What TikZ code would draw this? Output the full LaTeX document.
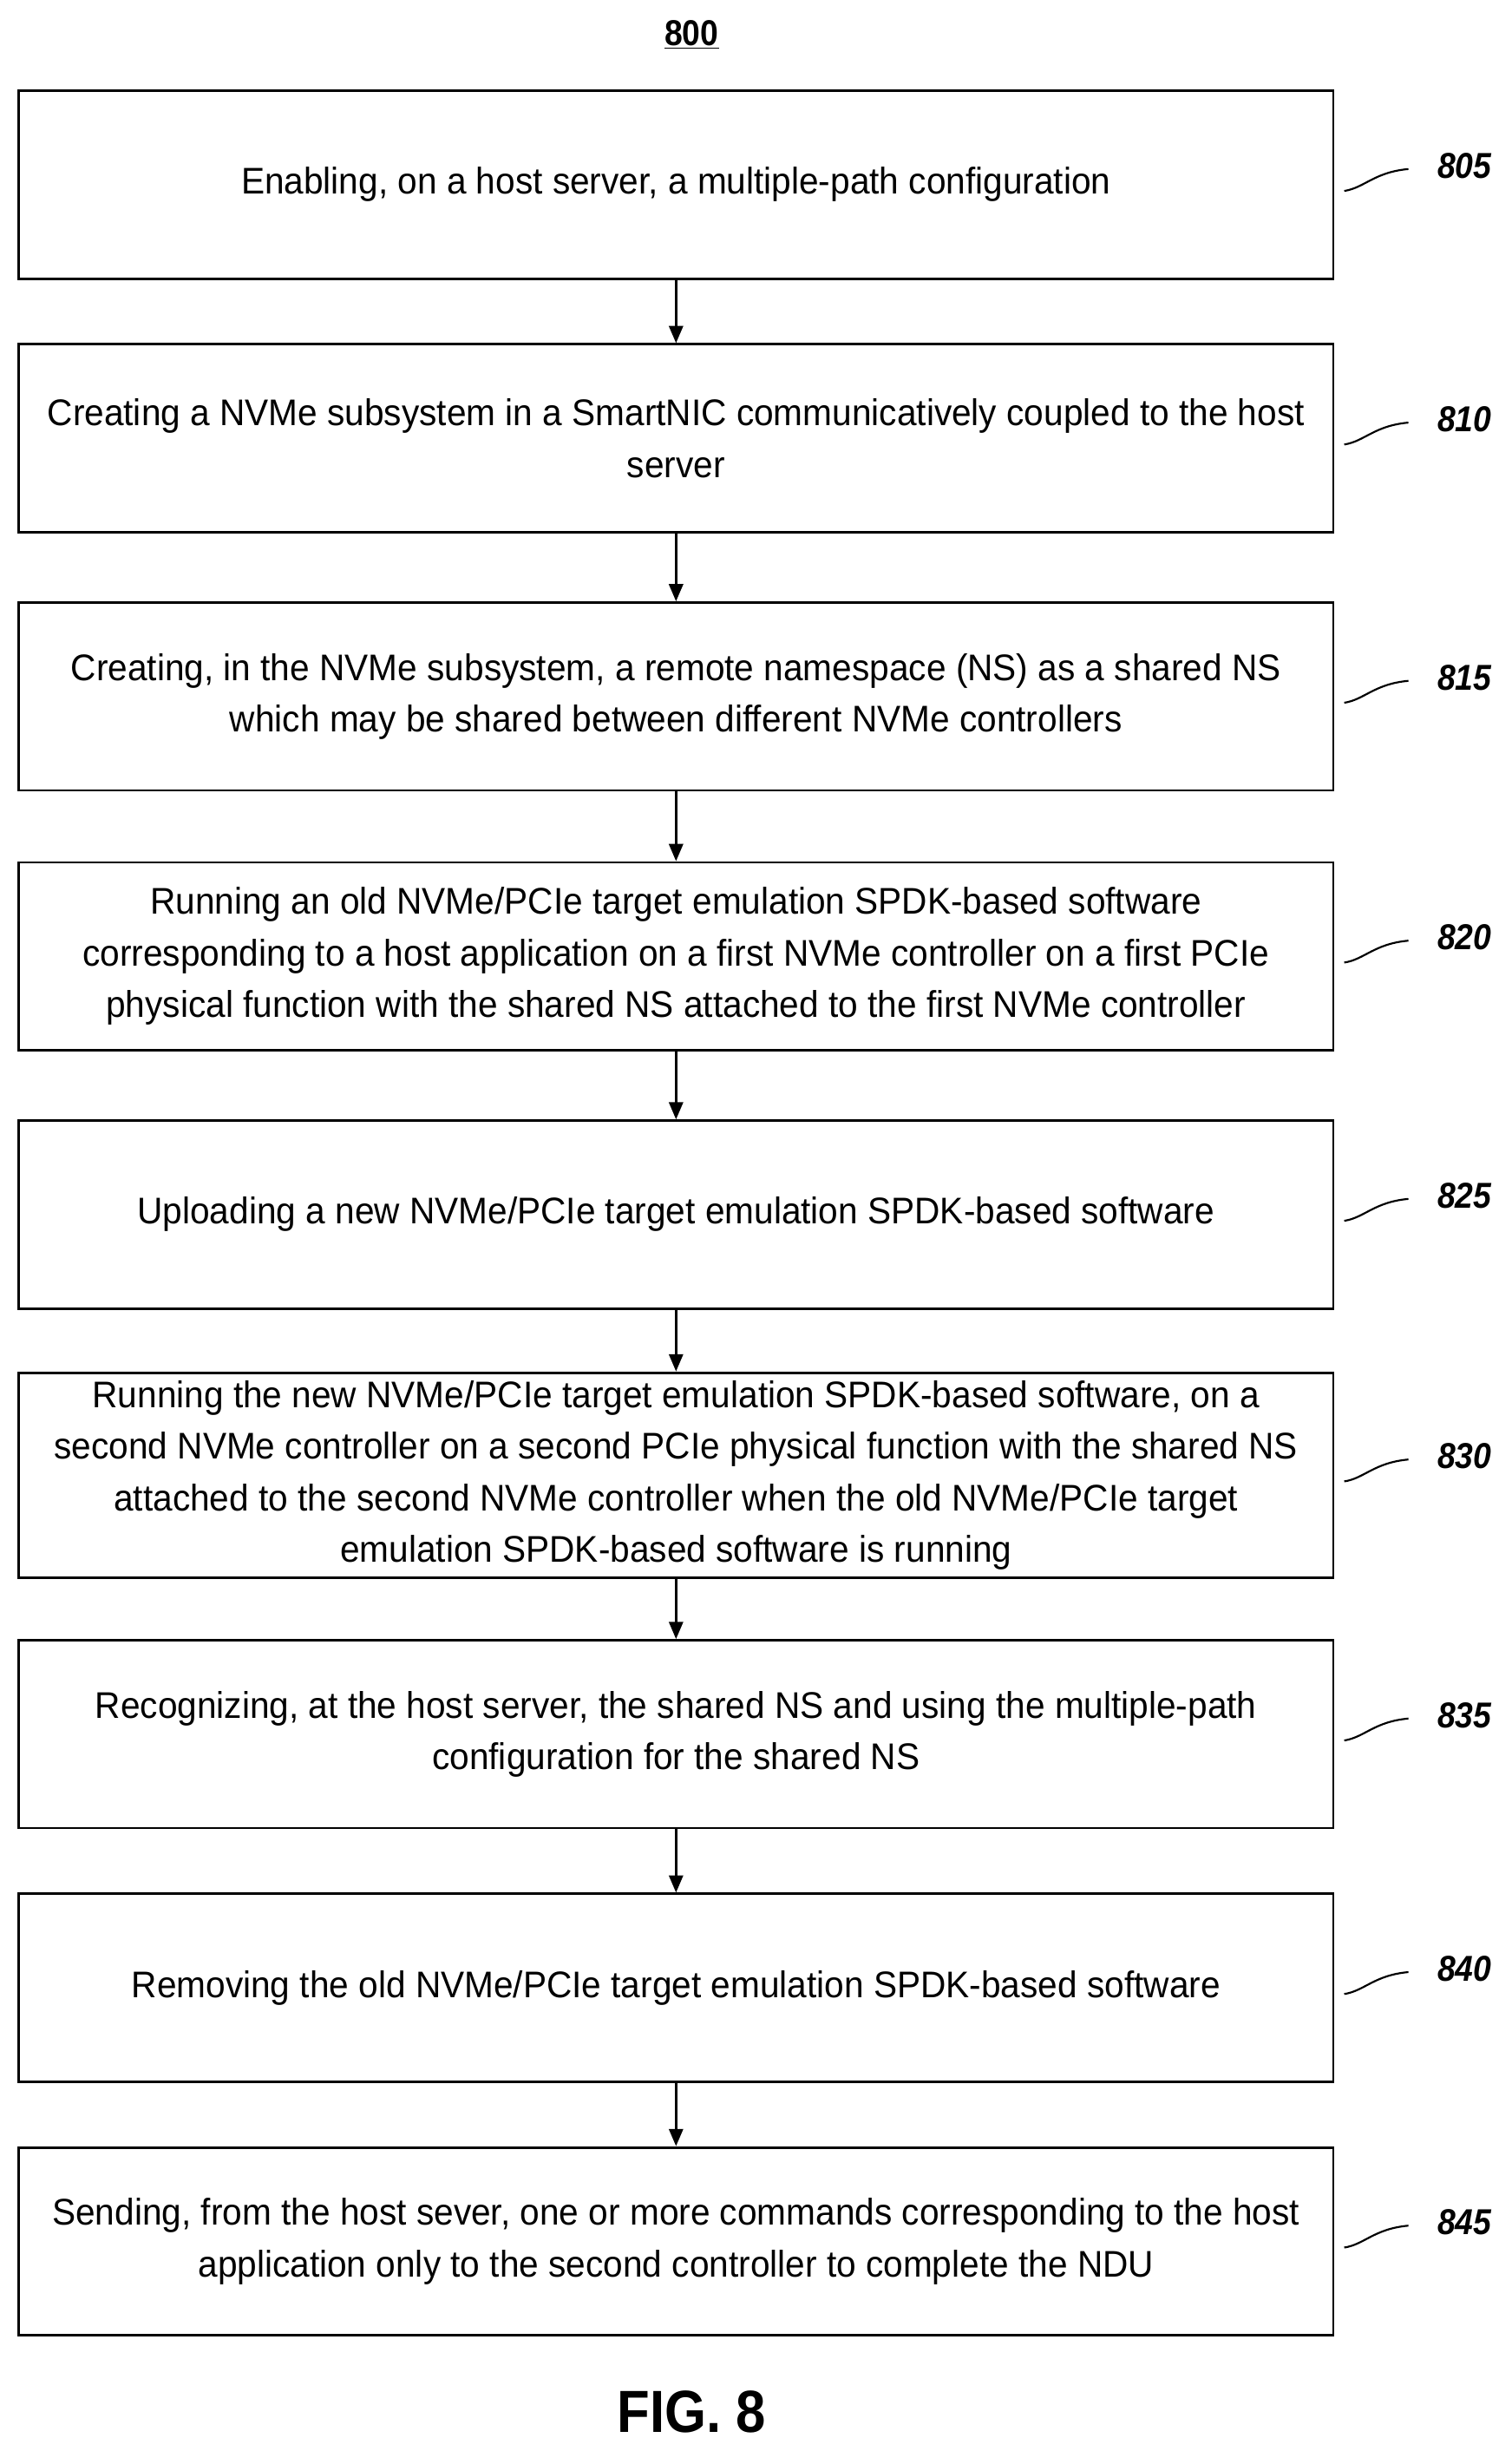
\documentclass[tikz,border=0pt]{standalone}
\usepackage{fontspec}
\setmainfont{Liberation Sans}[FakeStretch=0.95]
\newfontfamily\lblfont{Liberation Sans}[FakeStretch=0.9]
\usetikzlibrary{arrows.meta}
\begin{document}
\begin{tikzpicture}[x=1pt,y=-1pt,
  stepbox/.style={draw,line width=1.6pt,minimum width=840pt,inner sep=0pt,align=center,font=\fontsize{23.7}{33}\selectfont},
  lbl/.style={font=\lblfont\fontsize{23}{26}\selectfont\bfseries\itshape,anchor=west},
  arr/.style={-{Triangle[length=11pt,width=9pt]},line width=1.4pt}]
\useasboundingbox (0,0) rectangle (966,1566);
\node[font=\lblfont\fontsize{23}{26}\selectfont\bfseries] (t) at (442,22) {\underline{800}};
\def\bx#1#2#3#4{\node[stepbox,minimum height=#3-#2] (b#1) at (432,{(#2+#3)/2}) {#4};
 \draw[line width=1.2pt] (859,{(#2+#3)/2+4}) .. controls (872,{(#2+#3)/2+2}) and (878,{(#2+#3)/2-8}) .. (900,{(#2+#3)/2-10});
 \node[lbl] (l#1) at (915,{(#2+#3)/2-12}) {#1};}
\bx{805}{58}{178}{Enabling, on a host server, a multiple-path configuration}
\bx{810}{220}{340}{Creating a NVMe subsystem in a SmartNIC communicatively coupled to the host\\server}
\bx{815}{385}{505}{Creating, in the NVMe subsystem, a remote namespace (NS) as a shared NS\\which may be shared between different NVMe controllers}
\bx{820}{551}{671}{Running an old NVMe/PCIe target emulation SPDK-based software\\corresponding to a host application on a first NVMe controller on a first PCIe\\physical function with the shared NS attached to the first NVMe controller}
\bx{825}{716}{836}{Uploading a new NVMe/PCIe target emulation SPDK-based software}
\bx{830}{877}{1008}{Running the new NVMe/PCIe target emulation SPDK-based software, on a\\second NVMe controller on a second PCIe physical function with the shared NS\\attached to the second NVMe controller when the old NVMe/PCIe target\\emulation SPDK-based software is running}
\bx{835}{1048}{1168}{Recognizing, at the host server, the shared NS and using the multiple-path\\configuration for the shared NS}
\bx{840}{1210}{1330}{Removing the old NVMe/PCIe target emulation SPDK-based software}
\bx{845}{1372}{1492}{Sending, from the host sever, one or more commands corresponding to the host\\application only to the second controller to complete the NDU}
\foreach \a/\b in {805/810,810/815,815/820,820/825,825/830,830/835,835/840,840/845}
  \draw[arr] (b\a.south) -- (b\b.north);
\node[font=\lblfont\fontsize{38}{40}\selectfont\bfseries] (fig) at (442,1541) {FIG. 8};
\end{tikzpicture}
\end{document}
